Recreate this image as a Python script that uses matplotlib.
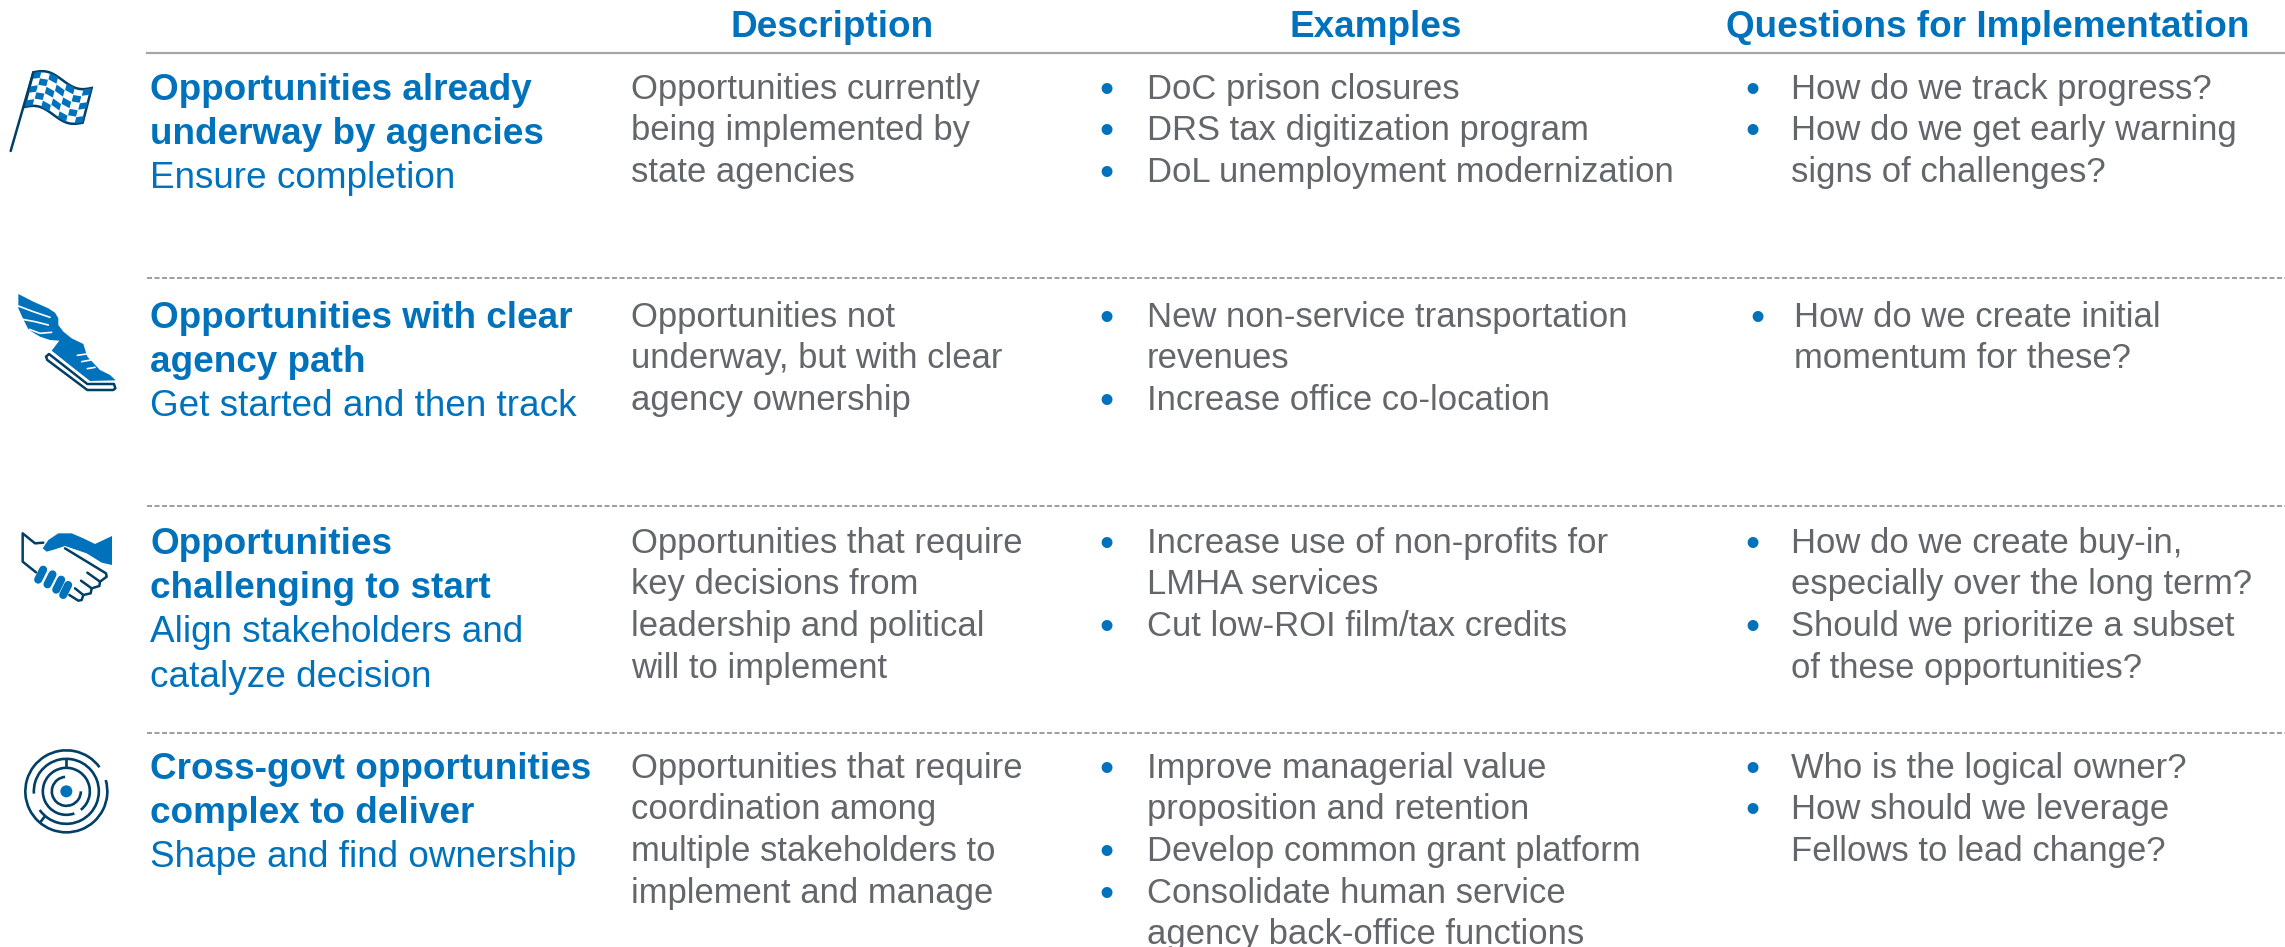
"""
Opportunity types table: what each type means, examples and questions.
Layout is in reference pixels (x right, y down).
"""

import numpy as np
import matplotlib
matplotlib.use('Agg')
import matplotlib.pyplot as plt
from matplotlib.patches import Polygon, Circle, Arc

BLUE = '#0072BC'
NAVY = '#003F66'
GREY = '#63666A'
FS_BODY = 24.9
FS_HEAD = 26.6

headers = ['Description', 'Examples', 'Questions for Implementation']

titles = [
    ['Opportunities already', 'underway by agencies'],
    ['Opportunities with clear', 'agency path'],
    ['Opportunities', 'challenging to start'],
    ['Cross-govt opportunities', 'complex to deliver'],
]
subtitles = [
    ['Ensure completion'],
    ['Get started and then track'],
    ['Align stakeholders and', 'catalyze decision'],
    ['Shape and find ownership'],
]
descriptions = [
    ['Opportunities currently', 'being implemented by', 'state agencies'],
    ['Opportunities not', 'underway, but with clear', 'agency ownership'],
    ['Opportunities that require', 'key decisions from', 'leadership and political', 'will to implement'],
    ['Opportunities that require', 'coordination among', 'multiple stakeholders to', 'implement and manage'],
]
examples = [
    [['DoC prison closures'], ['DRS tax digitization program'], ['DoL unemployment modernization']],
    [['New non-service transportation', 'revenues'], ['Increase office co-location']],
    [['Increase use of non-profits for', 'LMHA services'], ['Cut low-ROI film/tax credits']],
    [['Improve managerial value', 'proposition and retention'], ['Develop common grant platform'],
     ['Consolidate human service', 'agency back-office functions']],
]
questions = [
    [['How do we track progress?'], ['How do we get early warning', 'signs of challenges?']],
    [['How do we create initial', 'momentum for these?']],
    [['How do we create buy-in,', 'especially over the long term?'],
     ['Should we prioritize a subset', 'of these opportunities?']],
    [['Who is the logical owner?'], ['How should we leverage', 'Fellows to lead change?']],
]

plt.rcParams['font.family'] = ['Liberation Sans', 'DejaVu Sans']

fig = plt.figure(figsize=(22.85, 9.47), dpi=100)
ax = fig.add_axes([0, 0, 1, 1])
ax.set_xlim(0, 2285)
ax.set_ylim(947, 0)
ax.axis('off')

# column and row layout
title_x = 150
desc_x = 631
ex_bullet_x, ex_x = 1106, 1147
q_bullet_x, q_x = [1752, 1757, 1752, 1752], [1791, 1794, 1791, 1791]
row_base = [99.5, 327.5, 553.5, 778.5]
title_step = 44.4
body_step = 41.7

for x, h in zip([832, 1376, 1988], headers):
    ax.text(x, 36.5, h, color=BLUE, fontsize=FS_HEAD, fontweight='bold', ha='center', va='baseline')

ax.plot([147, 2285], [53, 53], color='#A6A6A6', lw=1.6)
for y in [278, 506, 733]:
    ax.plot([147, 2285], [y, y], color='#8C8C8C', lw=1.2, ls=(0, (3, 1.5)))


def bullets(items, bx, tx, y0):
    n = 0
    for item in items:
        ax.text(bx, y0 + 3 + n * body_step, '•', color=BLUE, fontsize=29, va='baseline', ha='center')
        for line in item:
            ax.text(tx, y0 + n * body_step, line, color=GREY, fontsize=FS_BODY, va='baseline')
            n += 1


for i in range(4):
    n = 0
    for line in titles[i]:
        ax.text(title_x, row_base[i] + n * title_step, line, color=BLUE, fontsize=FS_HEAD,
                fontweight='bold', va='baseline')
        n += 1
    for line in subtitles[i]:
        ax.text(title_x, row_base[i] + n * title_step, line, color=BLUE, fontsize=FS_HEAD, va='baseline')
        n += 1
    for k, line in enumerate(descriptions[i]):
        ax.text(desc_x, row_base[i] - 1 + k * body_step, line, color=GREY, fontsize=FS_BODY, va='baseline')
    bullets(examples[i], ex_bullet_x, ex_x, row_base[i] - 1)
    bullets(questions[i], q_bullet_x[i], q_x[i], row_base[i] - 1)


def z(pts, ox, oy):
    return [(ox + p[0] / 3, oy + p[1] / 3) for p in pts]


def stroke(pts, ox, oy, color=NAVY, lw=1.8):
    ax.plot(*zip(*z(pts, ox, oy)), color=color, lw=lw, solid_capstyle='round', solid_joinstyle='round')


def flag():
    ox, oy = 0, 40
    stroke([(32, 333), (100, 97)], ox, oy)
    s = np.linspace(0, 1, 30)

    def pt(u, v):
        # u along the flag, v down the flag
        x = 100 + u * 175 - v * 27
        y = 97 + u * 47 + v * 104 - 13 * np.sin(2 * np.pi * u)
        return x, y

    top = [pt(u, 0) for u in s]
    right = [pt(1, v) for v in s]
    bot = [pt(u, 1) for u in s[::-1]]
    ax.add_patch(Polygon(z(top + right + bot, ox, oy), closed=True, fill=False, ec=NAVY, lw=1.8))
    nu, nv = 7, 5
    for a in range(nu):
        for b in range(nv):
            if (a + b) % 2 == 0:
                u0, u1 = (a + 0.02) / nu, (a + 0.98) / nu
                v0, v1 = (b + 0.04) / nv, (b + 0.96) / nv
                ax.add_patch(Polygon(z([pt(u0, v0), pt(u1, v0), pt(u1, v1), pt(u0, v1)], ox, oy),
                                     closed=True, fc=BLUE, ec='none'))


def shoe():
    ox, oy = 0, 280
    body = [(55, 42), (100, 65), (145, 85), (165, 98), (175, 115), (175, 135), (190, 155), (215, 175), (250, 192),
            (262, 230), (300, 270), (330, 285), (347, 301), (270, 303), (200, 248), (155, 212), (178, 182),
            (150, 180), (120, 170), (100, 158), (85, 148), (70, 118), (55, 85)]
    ax.add_patch(Polygon(z(body, ox, oy), closed=True, fc=BLUE, ec='none', joinstyle='round'))
    for line in [[(55, 78), (100, 95), (150, 112)], [(68, 118), (105, 125), (145, 135)],
                 [(88, 148), (120, 160), (155, 157)], [(232, 226), (260, 222)],
                 [(245, 245), (272, 240)], [(262, 266), (285, 262)]]:
        stroke(line, ox, oy, color='white', lw=1.2)
    sole = [(147, 222), (262, 312), (342, 312), (346, 325), (340, 330), (262, 330), (142, 240), (138, 230)]
    ax.add_patch(Polygon(z(sole, ox, oy), closed=True, fc='white', ec=NAVY, lw=1.8, joinstyle='round'))


def handshake():
    ox, oy = 0, 510
    stroke([(108, 187), (68, 155), (68, 70), (105, 100), (130, 98)], ox, oy)
    stroke([(195, 115), (318, 190), (320, 200), (300, 215), (262, 188)], ox, oy)
    stroke([(300, 215), (298, 228), (275, 235), (243, 212)], ox, oy)
    stroke([(275, 235), (272, 250), (250, 255), (225, 235)], ox, oy)
    stroke([(250, 255), (245, 270), (235, 272), (208, 255)], ox, oy)
    cuff = [(128, 115), (145, 90), (175, 70), (215, 70), (250, 85), (285, 102), (336, 78), (336, 165),
            (305, 158), (260, 130), (195, 108), (165, 118), (140, 125)]
    ax.add_patch(Polygon(z(cuff, ox, oy), closed=True, fc=BLUE, ec='none', joinstyle='round'))
    for c in [(122, 194), (150, 208), (176, 224), (197, 240)]:
        cx, cy = ox + c[0] / 3, oy + c[1] / 3
        ax.plot([cx + 2.5, cx - 2.5], [cy - 5, cy + 5], color=BLUE, lw=5.8, solid_capstyle='round')


def maze():
    cx, cy = 199 / 3, 730 + 184 / 3
    ax.add_patch(Circle((cx, cy), 6, fc=BLUE, ec='none'))
    # radius, start and end angle; the y axis is flipped so angles run clockwise on screen
    arcs = [(41, -16, 324), (32.5, 176, 505), (23.5, 70, 412), (14.5, 0, 265)]
    for r, a, b in arcs:
        ax.add_patch(Arc((cx, cy), 2 * r, 2 * r, theta1=a, theta2=b, color=NAVY, lw=1.9))
    ax.plot([cx, cx], [cy - 32, cy - 24], color=NAVY, lw=1.9)
    ax.plot([cx - 21.5, cx - 25.7], [cy + 25, cy + 30.5], color=NAVY, lw=1.9)


flag()
shoe()
handshake()
maze()

fig.savefig('out.png', dpi=100)
